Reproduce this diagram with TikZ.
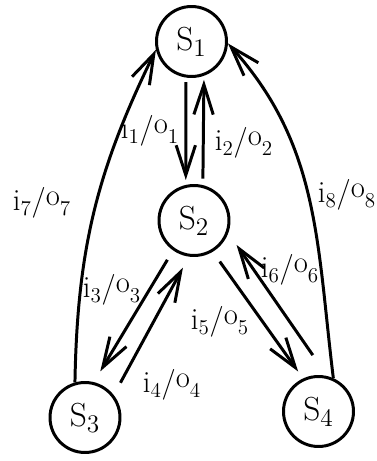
\documentclass[tikz,border=0pt]{standalone}
\usepackage{tikz}
\usetikzlibrary{arrows.meta}
\newcommand{\io}[1]{i$_{#1}$/\raisebox{.4ex}{o}$_{#1}$}

\begin{document}
\begin{tikzpicture}[x=0.02cm, y=0.02cm,
  state/.style={draw, circle, line width=1.7pt, minimum size=1.40cm,
                inner sep=0pt, font=\fontsize{19}{21}\selectfont},
  trans/.style={line width=1.7pt, -{Straight Barb[length=17pt,width=11pt]}},
  iolabel/.style={inner sep=0pt, font=\fontsize{17.5}{19}\selectfont}
]
\useasboundingbox (0,0) rectangle (377,461);
% states
\node[state] (S1) at (191.5,419.5) {S$_1$};
\node[state] (S2) at (194,240.5) {S$_2$};
\node[state] (S3) at (85,43.5) {S$_3$};
\node[state] (S4) at (318.5,49.5) {S$_4$};
% transitions
\draw[trans, shorten <=0.09cm, shorten >=0.10cm] (S1.261) -- (S2.103);
\draw[trans, shorten <=0.13cm, shorten >=0.08cm] (S2.76) -- (S1.290);
\draw[trans, shorten <=0.22cm, shorten >=0.25cm] (S2.235) -- (S3.76);
\draw[trans, shorten <=0.28cm, shorten >=0.25cm] (S3.38) -- (S2.262);
\draw[trans, shorten <=0.24cm, shorten >=0.17cm] (S2.301) -- (S4.115);
\draw[trans, shorten <=0.51cm, shorten >=0.29cm] (S4.76) -- (S2.340);
\draw[trans] (S3.106) to[out=89, in=244] (S1.193);
\draw[trans] (S4.66) to[out=97, in=312] (S1.357);
% labels
\node[iolabel] (lab1) at (150,330) {\io{1}};
\node[iolabel] (lab2) at (244,318) {\io{2}};
\node[iolabel] (lab3) at (112,171) {\io{3}};
\node[iolabel] (lab4) at (172,76) {\io{4}};
\node[iolabel] (lab5) at (220,139) {\io{5}};
\node[iolabel] (lab6) at (290,191) {\io{6}};
\node[iolabel] (lab7) at (42,258) {\io{7}};
\node[iolabel] (lab8) at (347,266) {\io{8}};
\end{tikzpicture}
\end{document}
